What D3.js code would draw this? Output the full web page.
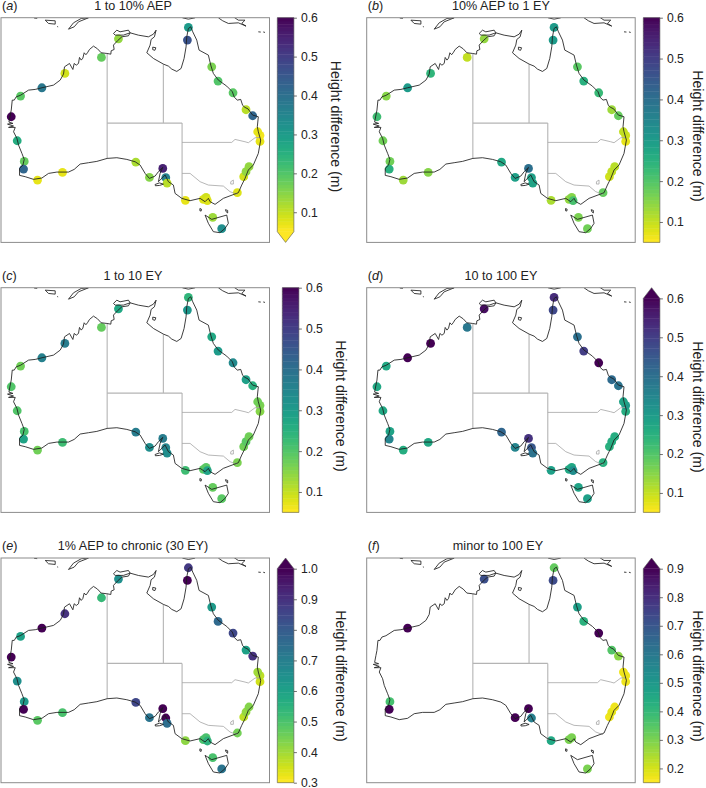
<!DOCTYPE html>
<html>
<head>
<meta charset="utf-8">
<script src="https://cdn.jsdelivr.net/npm/d3@7.9.0/dist/d3.min.js"></script>
<style>
  body { margin: 0; background: #fff; }
  svg { display: block; font-family: "Liberation Sans", Arial, sans-serif; fill: #222; }
  .tide text { font-size: 12.2px; fill: #222; }
  .tide line { stroke: #333; stroke-width: 0.7; }
  .tide path { display: none; }
</style>
</head>
<body>
<div id="chart"></div>
<script>
// tide gauge locations, [lon, lat]
const stations = [
  [142.01, -10.89], [141.85, -12.89], [130.81, -12.68], [128.09, -15.63], [122.23, -18.16], [118.55, -20.42],
  [115.13, -21.74], [113.64, -25.0], [114.6, -28.79], [115.72, -32.05], [115.61, -33.26], [117.85, -35.0],
  [121.85, -33.79], [133.59, -32.16], [135.77, -34.58], [137.91, -33.16], [138.39, -34.63], [138.6, -35.47],
  [141.53, -38.21], [144.41, -38.05], [144.84, -37.74], [145.05, -38.26], [149.85, -37.0], [150.87, -34.47],
  [151.24, -33.68], [151.72, -32.89], [153.48, -28.89], [153.48, -27.95], [153.11, -27.37], [152.31, -24.84],
  [151.24, -23.89], [149.16, -21.21], [146.76, -19.37], [145.75, -17.11], [145.91, -40.89], [147.35, -42.68],
];

// height differences (m), same order as stations, null = no gauge value
const valuesA = [.30, .46, .14, .18, .09, .38, .19, .60, .26, .18, .42, .07, .07, .12, .15, .55, .36, .11,
  .07, .08, .09, .08, .08, .09, .14, .14, .07, .06, .07, .42, .11, .19, .20, .16, .13, .33];
const valuesB = [.30, .30, .14, .10, .24, .30, .15, .22, .17, .17, .25, .13, .15, .27, .29, .40, .29, .28,
  .12, .14, .15, .21, .18, .09, .10, .11, .07, .09, .10, .18, .13, .23, .25, .19, .16, .17];
const valuesC = [.24, .31, .27, .18, .37, .36, .17, .20, .20, .21, .28, .17, .22, .37, .33, .37, .35, .33,
  .22, .19, .19, .28, .16, .17, .19, .17, .15, .16, .17, .25, .29, .34, .30, .27, .18, .19];
const valuesD = [.53, .48, .58, .38, .60, .60, .27, .27, .27, .28, .35, .26, .27, .42, .35, .52, .45, .39,
  .29, .27, .27, .33, .25, .25, .26, .26, .26, .30, .28, .39, .41, .60, .50, .40, .28, .29];
const valuesE = [.88, 1.0, .65, .53, .90, 1.0, .60, 1.0, .65, .62, 1.0, .48, .50, .85, .73, 1.0, 1.0, .75,
  .42, .50, .50, .55, .45, .37, .41, .43, .35, .37, .40, .90, .60, .85, .76, .62, .50, .73];
const valuesF = [.33, .73, .72, null, null, .90, null, null, null, .37, .90, null, null, null, .90, .90, .58, null,
  .45, .30, .30, null, null, .17, .18, .17, .17, .17, .17, .28, .35, .90, .42, .48, null, .30];

const letters = ["a", "b", "c", "d", "e", "f"];
const titles = ["1 to 10% AEP", "10% AEP to 1 EY", "1 to 10 EY", "10 to 100 EY", "1% AEP to chronic (30 EY)", "minor to 100 EY"];
const colorRanges = [[0.05, 0.6], [0.05, 0.6], [0.05, 0.6], [0.05, 0.6], [0.3, 1.0], [0.15, 0.9]];
const extendSides = ["min", null, null, "max", "max", "max"];
const tickLabels = [
  [0.1, 0.2, 0.3, 0.4, 0.5, 0.6],
  [0.1, 0.2, 0.3, 0.4, 0.5, 0.6],
  [0.1, 0.2, 0.3, 0.4, 0.5, 0.6],
  [0.1, 0.2, 0.3, 0.4, 0.5, 0.6],
  [0.3, 0.4, 0.5, 0.6, 0.7, 0.8, 0.9, 1.0],
  [0.2, 0.3, 0.4, 0.5, 0.6, 0.7, 0.8, 0.9],
];
const seriesValues = [valuesA, valuesB, valuesC, valuesD, valuesE, valuesF];

// coastline, traced by eye
const mainland = [
  [129, -31.58], [127.35, -32.05], [126.01, -32.26], [124.68, -32.47], [123.72, -33.32], [122.81, -33.74],
  [120.95, -33.74], [119.61, -33.95], [118.55, -34.68], [117.21, -34.89], [115.88, -34.47], [114.97, -34.26],
  [114.97, -33.16], [115.51, -32.63], [115.72, -31.74], [115.35, -30.79], [114.81, -29.47], [114.55, -28.42],
  [114.01, -27.37], [114.28, -26.68], [113.21, -26.68], [114.01, -26.47], [113.05, -26.16], [113.91, -26.05],
  [113.27, -25.84], [113.48, -24.74], [113.64, -23.95], [113.8, -22.37], [114.12, -22.37], [114.44, -21.84],
  [115.08, -21.63], [116.41, -20.79], [117.48, -20.68], [118.55, -20.42], [120.41, -20], [121.48, -19.21],
  [122.01, -18.26], [122.17, -17.11], [122.97, -16.58], [123.51, -17.53], [123.72, -16.58], [124.05, -16.85],
  [124.41, -16.58], [124.57, -15.63], [124.85, -16.05], [125.11, -15.74], [125.32, -14.89], [125.6, -15.2],
  [125.85, -14.89], [126.17, -14.37], [126.81, -13.84], [127.45, -14.26], [128.04, -14.89], [128.95, -15],
  [129.59, -15.11], [129.64, -14.58], [130.12, -14.37], [130.01, -13.68], [130.65, -13], [131.35, -12.37],
  [132.41, -12.21], [132.68, -11.74], [134.01, -12.11], [135.61, -12.37], [136.41, -11.95], [136.84, -11.32],
  [136.57, -12.37], [136.04, -12.79], [135.88, -13.68], [135.35, -14.89], [136.41, -15.79], [138.01, -16.68],
  [138.81, -17], [139.35, -17.47], [140.15, -17.84], [140.84, -17.37], [141.32, -15.79], [141.64, -13.95],
  [141.75, -12.37], [142.01, -11.05], [142.39, -10.79], [142.71, -11.58], [143.35, -12.89], [143.72, -14.47],
  [145.21, -15.26], [145.59, -16.84], [146.01, -18.16], [146.81, -19.21], [148.15, -20.16], [149.05, -21.05],
  [149.35, -21.9], [149.85, -22.37], [150.39, -22.26], [150.7, -23.2], [151.08, -23.53], [151.55, -23.75],
  [152.31, -24.74], [153.21, -25], [153.05, -26.58], [153.21, -27.37], [153.59, -28.68], [153.21, -30.79],
  [152.41, -32.63], [151.61, -33.42], [151.08, -34.74], [150.55, -35.79], [150.01, -37], [149.75, -37.1],
  [147.61, -37.89], [146.28, -38.84], [145.48, -38.42], [145.21, -37.89], [144.68, -38.42], [143.88, -37.89],
  [142.28, -38.26], [140.95, -37.89], [139.88, -37.11], [139.61, -35.79], [138.81, -35.26], [138.28, -34.21],
  [137.21, -35.26], [137.48, -33.95], [137.91, -33], [137.21, -33.68], [136.68, -34.37], [135.77, -34.74],
  [135.08, -33.95], [134.28, -32.63], [133.48, -32.11], [132.15, -31.74], [130.55, -31.47], [129, -31.58],
];
const islands = [
  [[144.68, -40.53], [145.75, -41.21], [148.15, -40.53], [148.41, -41.84], [147.88, -42.63], [147.08, -43.32], [146.01, -43.16], [145.21, -41.84], [144.68, -40.53]],
  [[136.68, -35.7], [137.37, -35.45], [138.01, -35.65], [137.4, -35.85], [136.73, -35.9], [136.68, -35.7]],
  [[143.85, -39.5], [144.1, -39.6], [144.05, -39.9], [143.85, -39.85], [143.85, -39.5]],
  [[147.95, -39.68], [148.3, -39.8], [148.3, -40.2], [148.05, -40], [147.95, -39.68]],
  [[136.3, -14.0], [136.8, -14.1], [136.65, -14.5], [136.3, -14.4], [136.3, -14.0]],
  [[130.01, -11.84], [130.55, -11.32], [131.07, -11.58], [132.41, -11.32], [132.68, -11.74], [131.61, -12.1], [130.28, -12.1], [130.01, -11.84]],
  [[119.08, -9.74], [120.68, -9.84], [120.68, -10.37], [119.61, -10.26], [119.08, -9.74]],
  [[122.81, -11.16], [123.72, -10.79], [124.41, -10], [126.01, -9.37], [124.84, -9.47], [123.61, -10.16], [122.81, -11.16]],
  [[146.81, -9.37], [147.51, -9.84], [148.41, -10.26], [150.01, -10.16], [151.24, -10.68], [150.55, -10.26], [151.08, -9.74], [150.01, -9.74], [149.21, -9.21]],
  [[141.05, -9.37], [142.01, -9.58], [143.08, -9.37]],
  [[153.21, -11.58], [153.6, -11.62]],
  [[154.0, -11.6], [154.28, -11.68]],
  [[117.3, -9.4], [117.8, -9.45]],
  [[121.0, -10.75], [121.15, -10.8]],
];

// state borders
const borders = [
  [[129, -15], [129, -31.6]],
  [[138, -16.7], [138, -26]],
  [[129, -26], [141, -26]],
  [[141, -26], [141, -38.1]],
];
const thinBorders = [
  [[141, -29.05], [148.95, -29.05], [149.48, -28.58], [151.08, -28.95], [151.61, -29.1], [152.68, -28.32], [153.48, -28.26]],
  [[141, -33.95], [142.28, -33.95], [143.88, -35.26], [145.21, -35.79], [147.61, -35.95], [148.68, -36.84], [149.85, -37.26]],
  [[148.79, -35.26], [149.21, -35], [149.21, -35.63], [148.79, -35.63], [148.79, -35.26]],
];

const width = 706;
const height = 788;
const mapWidth = 268.5;
const mapHeight = 224.7;

// panel layout
const mapLeft = [1, 366.7, 1, 366.7, 1, 366.7];
const mapTop = [17.7, 17.7, 287.7, 287.7, 558, 558];
const barLeft = [277.3, 643.3, 282.3, 643.3, 277.3, 643.3];
const labelX = [331, 693, 336, 693, 336, 693];
const labelY = [126.5, 136, 406, 407, 676, 676];
const titleX = [133, 501, 133, 501, 133, 498];
const barWidth = 16.6;
const arrowLen = 10.7;

const xScale = d3.scaleLinear().domain([112, 155]).range([0, mapWidth]);
const yScale = d3.scaleLinear().domain([-44.85, -9.35]).range([mapHeight, 0]);
const line = d3.line().x((d) => xScale(d[0])).y((d) => yScale(d[1]));

const svg = d3.select("#chart").append("svg").attr("width", width).attr("height", height);

svg.append("defs").append("clipPath").attr("id", "map-clip")
  .append("rect").attr("width", mapWidth).attr("height", mapHeight);

function renderMap(i) {
  const [vMin, vMax] = colorRanges[i];
  const t = d3.scaleLinear().domain([vMin, vMax]).range([1, 0]).clamp(true);
  const color = (v) => d3.interpolateViridis(t(v));

  const g = svg.append("g").attr("transform", `translate(${mapLeft[i]},${mapTop[i]})`);
  const map = g.append("g").attr("clip-path", "url(#map-clip)");

  // dots go under the coast
  map.append("g").selectAll("circle")
    .data(stations.map((s, k) => ({ lon: s[0], lat: s[1], value: seriesValues[i][k] })).filter((d) => d.value !== null))
    .join("circle")
    .attr("cx", (d) => xScale(d.lon))
    .attr("cy", (d) => yScale(d.lat))
    .attr("r", 4.4)
    .attr("fill", (d) => color(d.value));

  map.append("g").selectAll("path").data(borders).join("path")
    .attr("d", line).attr("fill", "none").attr("stroke", "#b4b4b4").attr("stroke-width", 1.1);
  map.append("g").selectAll("path").data(thinBorders).join("path")
    .attr("d", line).attr("fill", "none").attr("stroke", "#a4a4a4").attr("stroke-width", 0.8);
  map.append("g").selectAll("path").data([mainland, ...islands]).join("path")
    .attr("d", line).attr("fill", "none").attr("stroke", "#1c1c1c").attr("stroke-width", 0.85);

  g.append("rect").attr("width", mapWidth).attr("height", mapHeight)
    .attr("fill", "none").attr("stroke", "#8c8c8c").attr("stroke-width", 1);

  // panel letter and title
  const letter = svg.append("text").attr("x", mapLeft[i] + 1).attr("y", mapTop[i] - 8).style("font-size", "12.6px");
  letter.append("tspan").text("(");
  letter.append("tspan").style("font-style", "italic").text(letters[i]);
  letter.append("tspan").text(")");
  svg.append("text").attr("x", titleX[i]).attr("y", mapTop[i] - 8)
    .attr("text-anchor", "middle").style("font-size", "12.6px").text(titles[i]);

  renderColorbar(i, color);
}

function renderColorbar(i, color) {
  const [vMin, vMax] = colorRanges[i];
  const extend = extendSides[i];
  const barTop = mapTop[i] + (extend === "max" ? arrowLen : 0);
  const barBottom = mapTop[i] + mapHeight - (extend === "min" ? arrowLen : 0);
  const scale = d3.scaleLinear().domain([vMin, vMax]).range([barBottom, barTop]);

  const g = svg.append("g").attr("transform", `translate(${barLeft[i]},0)`);

  const steps = d3.range(0, 64).map((k) => vMin + (vMax - vMin) * k / 64);
  const stepSize = (vMax - vMin) / 64;
  g.append("g").selectAll("rect").data(steps).join("rect")
    .attr("width", barWidth)
    .attr("y", (d) => scale(d + stepSize) - 0.2)
    .attr("height", (d) => scale(d) - scale(d + stepSize) + 0.4)
    .attr("fill", (d) => color(d + stepSize / 2));

  // triangle for the extended end
  const tipY = extend === "max" ? barTop - arrowLen : barBottom + arrowLen;
  const baseY = extend === "max" ? barTop : barBottom;
  if (extend) {
    g.append("path")
      .attr("d", `M0,${baseY}L${barWidth / 2},${tipY}L${barWidth},${baseY}Z`)
      .attr("fill", color(extend === "max" ? vMax : vMin));
  }

  const outline = !extend
    ? `M0,${barTop}H${barWidth}V${barBottom}H0Z`
    : extend === "max"
      ? `M0,${barBottom}V${barTop}L${barWidth / 2},${tipY}L${barWidth},${barTop}V${barBottom}Z`
      : `M0,${barTop}V${barBottom}L${barWidth / 2},${tipY}L${barWidth},${barBottom}V${barTop}Z`;
  g.append("path").attr("d", outline).attr("fill", "none").attr("stroke", "#555").attr("stroke-width", 0.6);

  g.append("g").attr("class", "tide")
    .attr("transform", `translate(${barWidth},0)`)
    .call(d3.axisRight(scale).tickValues(tickLabels[i]).tickSize(3).tickPadding(4).tickFormat(d3.format(".1f")));

  svg.append("text")
    .attr("transform", `translate(${labelX[i]},${labelY[i]}) rotate(90)`)
    .attr("text-anchor", "middle")
    .style("font-size", "14.1px")
    .text("Height difference (m)");
}

letters.forEach((_, i) => renderMap(i));
</script>
</body>
</html>
